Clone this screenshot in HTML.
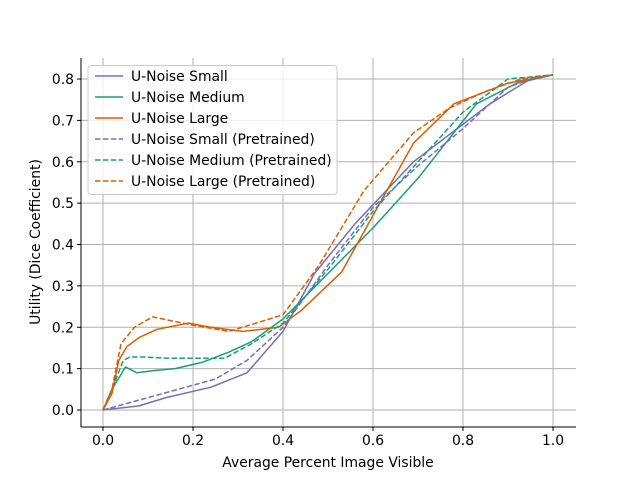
<!DOCTYPE html>
<html><head><meta charset="utf-8"><style>
body{margin:0;background:#fff}
text{font-family:"DejaVu Sans","Liberation Sans",sans-serif;fill:#000}
</style></head><body>
<svg id="chart" width="640" height="480" xmlns="http://www.w3.org/2000/svg">
<rect width="640" height="480" fill="#fff"/>
<g id="grid"></g><g id="series"></g><g id="axes"></g><g id="legend"></g>
</svg>
<script>
const xTicks=[0,0.2,0.4,0.6,0.8,1.0];
const yTicks=[0,0.1,0.2,0.3,0.4,0.5,0.6,0.7,0.8];
const seriesNames=["U-Noise Small","U-Noise Medium","U-Noise Large","U-Noise Small (Pretrained)","U-Noise Medium (Pretrained)","U-Noise Large (Pretrained)"];
const smallX=[0,0.08,0.14,0.24,0.32,0.40,0.47,0.56,0.69,0.86,0.95,1.0];
const smallY=[0,0.01,0.03,0.055,0.09,0.19,0.33,0.45,0.60,0.74,0.80,0.81];
const mediumX=[0,0.02,0.05,0.075,0.11,0.16,0.22,0.28,0.33,0.4,0.5,0.6,0.7,0.83,0.92,1.0];
const mediumY=[0,0.05,0.104,0.09,0.095,0.1,0.115,0.14,0.165,0.22,0.33,0.44,0.56,0.74,0.79,0.81];
const largeX=[0,0.02,0.035,0.053,0.08,0.12,0.19,0.24,0.31,0.39,0.44,0.53,0.6,0.69,0.78,0.9,1.0];
const largeY=[0,0.04,0.12,0.153,0.175,0.195,0.21,0.2,0.19,0.2,0.24,0.333,0.47,0.645,0.74,0.79,0.81];
const smallPX=[0,0.25,0.32,0.40,0.5,0.6,0.7,0.8,0.9,0.95,1.0];
const smallPY=[0,0.075,0.12,0.2,0.35,0.49,0.59,0.68,0.78,0.80,0.81];
const mediumPX=[0,0.02,0.045,0.06,0.09,0.15,0.22,0.27,0.33,0.4,0.5,0.6,0.7,0.8,0.9,1.0];
const mediumPY=[0,0.05,0.12,0.128,0.128,0.125,0.125,0.125,0.16,0.21,0.34,0.48,0.6,0.72,0.8,0.81];
const largePX=[0,0.02,0.04,0.07,0.11,0.2,0.28,0.4,0.48,0.58,0.69,0.77,0.85,0.93,1.0];
const largePY=[0,0.05,0.16,0.2,0.225,0.205,0.19,0.23,0.35,0.53,0.67,0.73,0.77,0.8,0.81];
const NS="http://www.w3.org/2000/svg";
const L=81,R=576,T=58,B=427;
const FS=13.9;
function sx(v){return 103+v*450;}
function sy(v){return 410-v*413.75;}
function mk(tag,attrs,parent){const e=document.createElementNS(NS,tag);for(const k in attrs)e.setAttribute(k,attrs[k]);parent.appendChild(e);return e;}
const grid=document.getElementById('grid'),axes=document.getElementById('axes'),ser=document.getElementById('series'),leg=document.getElementById('legend');
xTicks.forEach(t=>{
 const g=mk('line',{x1:sx(t),x2:sx(t),y1:T,y2:B,stroke:'#b0b0b0','stroke-width':1},grid);
 
 
 mk('line',{x1:sx(t),x2:sx(t),y1:B,y2:B+4,stroke:'#000'},axes);
 const tx=mk('text',{x:sx(t),y:B+18,'text-anchor':'middle','font-size':FS},axes);tx.textContent=t.toFixed(1);
 
 
});
yTicks.forEach(t=>{
 const g=mk('line',{x1:L,x2:R,y1:sy(t),y2:sy(t),stroke:'#b0b0b0','stroke-width':1},grid);
 
 
 mk('line',{x1:L-4,x2:L,y1:sy(t),y2:sy(t),stroke:'#000'},axes);
 const tx=mk('text',{x:L-7,y:sy(t)+5,'text-anchor':'end','font-size':FS},axes);tx.textContent=t.toFixed(1);
 
 
});
mk('line',{x1:L,x2:L,y1:T,y2:B,stroke:'#000','stroke-width':1},axes);
mk('line',{x1:L,x2:R,y1:B,y2:B,stroke:'#000','stroke-width':1},axes);
const xl=mk('text',{x:328,y:467,'text-anchor':'middle','font-size':FS},axes);xl.textContent='Average Percent Image Visible';


const yl=mk('text',{x:0,y:0,'text-anchor':'middle','font-size':FS,transform:'translate(40,242) rotate(-90)'},axes);yl.textContent='Utility (Dice Coefficient)';


const cols=['#7570b3','#1b9e77','#d95f02','#7570b3','#1b9e77','#d95f02'];
const data=[[smallX,smallY],[mediumX,mediumY],[largeX,largeY],[smallPX,smallPY],[mediumPX,mediumPY],[largePX,largePY]];
const names=['line-small','line-medium','line-large','line-small-pretrained','line-medium-pretrained','line-large-pretrained'];
data.forEach((d,i)=>{
 const pts=d[0].map((x,j)=>sx(x).toFixed(1)+','+sy(d[1][j]).toFixed(1)).join(' ');
 const p=mk('polyline',{points:pts,fill:'none',stroke:cols[i],'stroke-width':1.5,'stroke-linejoin':'round'},ser);
 if(i>=3)p.setAttribute('stroke-dasharray','5.5,2.4');
 
 
});
const box=mk('rect',{x:88,y:65.5,width:249,height:129,rx:3,fill:'#fff','fill-opacity':0.8,stroke:'#ccc'},leg);


seriesNames.forEach((n,i)=>{
 const y=76+i*21;
 const l=mk('line',{x1:95,x2:123,y1:y,y2:y,stroke:cols[i],'stroke-width':1.5},leg);
 if(i>=3)l.setAttribute('stroke-dasharray','5.5,2.4');
 
 
 const t=mk('text',{x:131,y:y+5,'font-size':FS},leg);t.textContent=n;
 
 
});
</script>
</body></html>
